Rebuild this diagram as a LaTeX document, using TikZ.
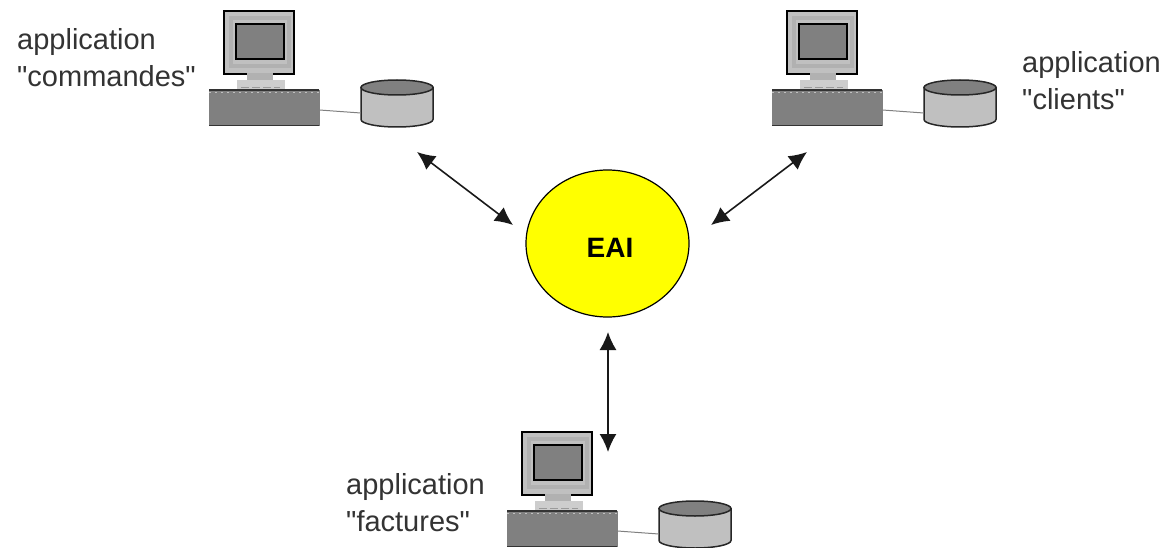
\documentclass[tikz,border=0pt]{standalone}
\usepackage{fontspec}
\setmainfont{Liberation Sans}[Ligatures=TeXOff]
\usepackage{xcolor}
\usetikzlibrary{positioning,shapes.geometric,arrows.meta}
\definecolor{boxgray}{RGB}{128,128,128}
\definecolor{lightgray}{RGB}{192,192,192}
\definecolor{eaiyellow}{RGB}{255,255,0}

\tikzset{
    part/.style={rectangle, draw=#1, inner sep=0pt, anchor=north west},
    label/.style={align=left, anchor=north west, inner sep=0pt, font=\fontsize{29}{37}\selectfont, text=black!80},
    arrow/.style={{Latex[length=18pt,width=17pt]}-{Latex[length=18pt,width=17pt]}, line width=1.6pt, black!90},
    poste/.pic={
        \node[part=black, line width=2pt, fill=lightgray, minimum width=70pt, minimum height=63pt] (-monitor) at (14,0) {};
        \node[part=lightgray!92!black, line width=4pt, minimum width=58pt, minimum height=48pt] (-band) at (20,6) {};
        \node[part=black, line width=2.2pt, fill=boxgray, minimum width=48pt, minimum height=35pt] (-screen) at (26,13) {};
        \node[part=lightgray!92!black, fill=lightgray!92!black, minimum width=25pt, minimum height=7pt] (-neck) at (38,63) {};
        \node[part=lightgray!80, fill=lightgray!80, minimum width=47pt, minimum height=9pt] (-stand) at (28,70) {};
        \draw[line width=1pt, boxgray!80, dash pattern=on 8pt off 3pt] ([xshift=4pt,yshift=-3pt]-stand.west) -- ([xshift=-4pt,yshift=-3pt]-stand.east);
        \node[part=boxgray, fill=boxgray, minimum width=110pt, minimum height=35pt] (-box) at (0,80) {};
        \draw[line width=1.5pt, black!80] (-box.north west) -- (-box.north east);
        \draw[line width=1.5pt, black!80] (-box.south west) -- (-box.south east);
        \draw[line width=1.2pt, lightgray, dash pattern=on 2pt off 4pt] ([yshift=-2.5pt]-box.north west) -- ([yshift=-2.5pt]-box.north east);
        \node[rectangle, minimum width=72pt, minimum height=47pt, inner sep=0pt] (-disk) at (188,93.5) {};
        \draw[line width=1.5pt, black!85, fill=lightgray] (152,77.5) -- (152,109.5) arc[start angle=180, end angle=0, x radius=36, y radius=7.5] -- (224,77.5) -- cycle;
        \draw[line width=1.5pt, black!85, fill=boxgray] (188,77.5) ellipse[x radius=36, y radius=7.5];
        \draw[line width=1pt, boxgray] (-box.east |- 0,100) -- (-disk.west |- 0,103);
    }
}

\begin{document}
\begin{tikzpicture}[x=1pt, y=-1pt]
    \useasboundingbox (0,0) rectangle (1169,548);

    \pic (commandes) at (209,10) {poste};
    \pic (clients) at (772,10) {poste};
    \pic (factures) at (507,431) {poste};

    \node[ellipse, draw=black, line width=1.2pt, fill=eaiyellow, minimum width=163pt, minimum height=147pt, inner sep=0pt] (eai) at (607.5,243.5) {};
    \node[font=\fontsize{28}{28}\selectfont\bfseries, inner sep=0pt] (eaitext) at (610,248) {EAI};

    \node[label] (labelcommandes) at (17,28.5) {application\\"commandes"};
    \node[label] (labelclients) at (1022,51.5) {application\\"clients"};
    \node[label] (labelfactures) at (346,473.5) {application\\"factures"};

    % free ends of the arrows
    \coordinate (c1) at (417,152);
    \coordinate (e1) at (513,225);
    \coordinate (c2) at (807,152);
    \coordinate (e2) at (711,225);
    \coordinate (c3) at (608,452);
    \coordinate (e3) at (608,332);

    \draw[arrow] (c1) -- (e1);
    \draw[arrow] (c2) -- (e2);
    \draw[arrow] (c3) -- (e3);
\end{tikzpicture}
\end{document}
